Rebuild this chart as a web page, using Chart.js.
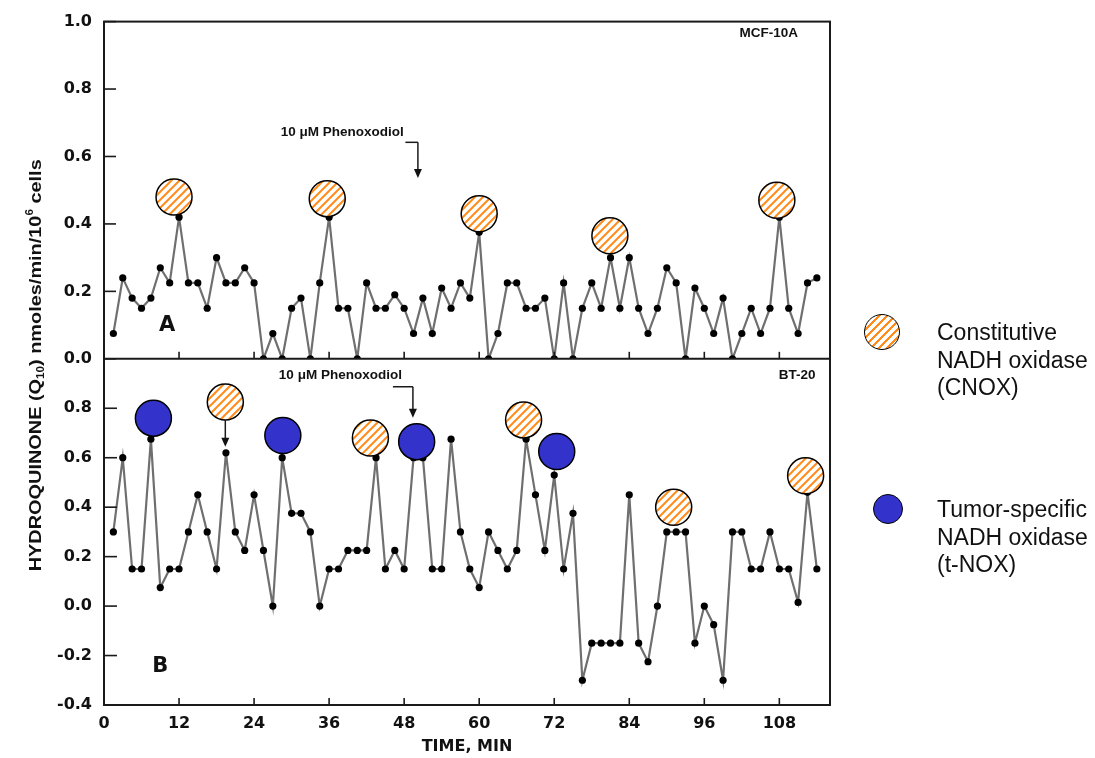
<!DOCTYPE html>
<html>
<head>
<meta charset="utf-8">
<script src="https://cdn.jsdelivr.net/npm/chart.js@4.4.1/dist/chart.umd.min.js"></script>
<style>
  body { margin: 0; background: #fff; }
  #wrap { position: relative; width: 1095px; height: 758px; }
  .swatch { position: absolute; border: 1.5px solid #000; border-radius: 50%; box-sizing: border-box; }
  .legend-text { position: absolute; left: 937px; font-family: "Liberation Sans", Arial, sans-serif;
    font-size: 23px; line-height: 27.5px; color: #111; white-space: nowrap; }
</style>
</head>
<body>
<div id="wrap">
  <canvas id="chart" width="1095" height="758"></canvas>
  <div class="swatch" style="left:864px;top:314px;width:36px;height:36px;background:repeating-linear-gradient(135deg,#fff 0 3.6px,#ff8c1a 3.6px 5.7px);"></div>
  <div class="legend-text" style="top:319px;">Constitutive<br>NADH oxidase<br>(CNOX)</div>
  <div class="swatch" style="left:873px;top:494px;width:30px;height:30px;background:#3333cc;"></div>
  <div class="legend-text" style="top:496px;">Tumor-specific<br>NADH oxidase<br>(t-NOX)</div>
</div>
<script>
// sampling times (min)
const minutes = [1.5, 3, 4.5, 6, 7.5, 9, 10.5, 12, 13.5, 15, 16.5, 18, 19.5, 21, 22.5, 24, 25.5, 27, 28.5, 30,
  31.5, 33, 34.5, 36, 37.5, 39, 40.5, 42, 43.5, 45, 46.5, 48, 49.5, 51, 52.5, 54, 55.5, 57, 58.5, 60,
  61.5, 63, 64.5, 66, 67.5, 69, 70.5, 72, 73.5, 75, 76.5, 78, 79.5, 81, 82.5, 84, 85.5, 87, 88.5, 90,
  91.5, 93, 94.5, 96, 97.5, 99, 100.5, 102, 103.5, 105, 106.5, 108, 109.5, 111, 112.5, 114];

// panel A, MCF-10A
const mcf10a = [0.075, 0.24, 0.18, 0.15, 0.18, 0.27, 0.225, 0.42, 0.225, 0.225,
  0.15, 0.30, 0.225, 0.225, 0.27, 0.225, 0.0, 0.075, 0.0, 0.15,
  0.18, 0.0, 0.225, 0.42, 0.15, 0.15, 0.0, 0.225, 0.15, 0.15,
  0.19, 0.15, 0.075, 0.18, 0.075, 0.21, 0.15, 0.225, 0.18, 0.375,
  0.0, 0.075, 0.225, 0.225, 0.15, 0.15, 0.18, 0.0, 0.225, 0.0,
  0.15, 0.225, 0.15, 0.30, 0.15, 0.30, 0.15, 0.075, 0.15, 0.27,
  0.225, 0.0, 0.21, 0.15, 0.075, 0.18, 0.0, 0.075, 0.15, 0.075,
  0.15, 0.42, 0.15, 0.075, 0.225, 0.24];

// panel B, BT-20
const bt20 = [0.30, 0.60, 0.15, 0.15, 0.675, 0.075, 0.15, 0.15, 0.30, 0.45,
  0.30, 0.15, 0.62, 0.30, 0.225, 0.45, 0.225, 0.0, 0.60, 0.375,
  0.375, 0.30, 0.0, 0.15, 0.15, 0.225, 0.225, 0.225, 0.60, 0.15,
  0.225, 0.15, 0.60, 0.60, 0.15, 0.15, 0.675, 0.30, 0.15, 0.075,
  0.30, 0.225, 0.15, 0.225, 0.675, 0.45, 0.225, 0.53, 0.15, 0.375,
  -0.30, -0.15, -0.15, -0.15, -0.15, 0.45, -0.15, -0.225, 0.0, 0.30,
  0.30, 0.30, -0.15, 0.0, -0.075, -0.30, 0.30, 0.30, 0.15, 0.15,
  0.30, 0.15, 0.15, 0.015, 0.46, 0.15];

// CNOX / tNOX peak markers
const cnoxTopMin = [11.2, 35.7, 60, 80.9, 107.6];
const cnoxTopVal = [0.48, 0.475, 0.43, 0.365, 0.47];
const cnoxBotMin = [19.4, 42.6, 67.1, 91.1, 112.2];
const cnoxBotVal = [0.825, 0.68, 0.753, 0.40, 0.527];
const tnoxBotMin = [7.9, 28.6, 50.0, 72.4];
const tnoxBotVal = [0.76, 0.69, 0.665, 0.625];

const xTickVals = [0, 12, 24, 36, 48, 60, 72, 84, 96, 108];
const topTickVals = [0, 0.2, 0.4, 0.6, 0.8, 1.0];
const botTickVals = [-0.4, -0.2, 0, 0.2, 0.4, 0.6, 0.8];

const pts = (xs, ys) => xs.map((x, i) => ({ x, y: ys[i] }));

function hatch() {
  const c = document.createElement('canvas');
  c.width = 8; c.height = 8;
  const g = c.getContext('2d');
  g.fillStyle = '#fff';
  g.fillRect(0, 0, 8, 8);
  g.strokeStyle = '#ff8c1a';
  g.lineWidth = 2;
  g.beginPath();
  g.moveTo(-1, 9); g.lineTo(9, -1);
  g.moveTo(-1, 1); g.lineTo(1, -1);
  g.moveTo(7, 9); g.lineTo(9, 7);
  g.stroke();
  return g.createPattern(c, 'repeat');
}
const stripes = hatch();

const tickFont = { family: '"DejaVu Sans", sans-serif', size: 16, weight: 'bold' };

function line(ctx, x1, y1, x2, y2) {
  ctx.beginPath(); ctx.moveTo(x1, y1); ctx.lineTo(x2, y2); ctx.stroke();
}
function head(ctx, x, y) {
  ctx.beginPath(); ctx.moveTo(x, y); ctx.lineTo(x - 4, y - 9); ctx.lineTo(x + 4, y - 9); ctx.closePath(); ctx.fill();
}

const decor = {
  id: 'decor',
  afterDraw(chart) {
    const { ctx, chartArea: a, scales } = chart;
    const x = scales.x, yT = scales.yTop, yB = scales.yBot;
    const split = yT.getPixelForValue(0);
    ctx.save();
    ctx.strokeStyle = '#1a1a1a';
    ctx.fillStyle = '#111';
    ctx.lineWidth = 2;
    ctx.strokeRect(a.left, a.top, a.right - a.left, a.bottom - a.top);
    line(ctx, a.left, split, a.right, split);

    ctx.lineWidth = 1.6;
    topTickVals.forEach(v => { const p = yT.getPixelForValue(v); line(ctx, a.left, p, a.left + 12, p); });
    botTickVals.forEach(v => { const p = yB.getPixelForValue(v); line(ctx, a.left, p, a.left + 13, p); });
    xTickVals.forEach(v => {
      const p = x.getPixelForValue(v);
      line(ctx, p, a.bottom, p, a.bottom - 7);
      line(ctx, p, split, p, split - 7);
    });

    // annotations
    ctx.font = 'bold 13.5px "Liberation Sans", Arial, sans-serif';
    ctx.textBaseline = 'middle';
    ctx.textAlign = 'center';
    ctx.fillText('10 \u03BCM Phenoxodiol', x.getPixelForValue(38.1), yT.getPixelForValue(0.672));
    ctx.fillText('10 \u03BCM Phenoxodiol', x.getPixelForValue(37.8), yB.getPixelForValue(0.935));
    ctx.textAlign = 'right';
    ctx.fillText('MCF-10A', x.getPixelForValue(111.0), yT.getPixelForValue(0.964));
    ctx.fillText('BT-20', x.getPixelForValue(113.8), yB.getPixelForValue(0.935));
    ctx.textAlign = 'center';
    ctx.font = 'bold 21px "DejaVu Sans", sans-serif';
    ctx.fillText('A', x.getPixelForValue(10.1), yT.getPixelForValue(0.098));
    ctx.fillText('B', x.getPixelForValue(9.0), yB.getPixelForValue(-0.246));

    ctx.lineWidth = 1.5;
    // elbow arrows for the phenoxodiol addition
    let ax0 = x.getPixelForValue(48.2), ax1 = x.getPixelForValue(50.2);
    let ay0 = yT.getPixelForValue(0.642), ay1 = yT.getPixelForValue(0.536);
    line(ctx, ax0, ay0, ax1, ay0); line(ctx, ax1, ay0, ax1, ay1 - 6); head(ctx, ax1, ay1);
    ax0 = x.getPixelForValue(46.2); ax1 = x.getPixelForValue(49.4);
    ay0 = yB.getPixelForValue(0.887); ay1 = yB.getPixelForValue(0.762);
    line(ctx, ax0, ay0, ax1, ay0); line(ctx, ax1, ay0, ax1, ay1 - 6); head(ctx, ax1, ay1);
    // arrow from the CNOX circle down to its peak
    const cx = x.getPixelForValue(cnoxBotMin[0]);
    const cyTop = yB.getPixelForValue(cnoxBotVal[0]) + 18;
    const peakY = yB.getPixelForValue(bt20[12]) - 6;
    line(ctx, cx, cyTop, cx, peakY - 6); head(ctx, cx, peakY);

    // y axis title with sub/superscript
    const parts = [
      { t: 'HYDROQUINONE (Q', s: 17, dy: 0 },
      { t: '10', s: 10, dy: 5 },
      { t: ') nmoles/min/10', s: 17, dy: 0 },
      { t: '6', s: 10, dy: -6 },
      { t: ' cells', s: 17, dy: 0 }
    ];
    let total = 0;
    parts.forEach(p => { ctx.font = 'bold ' + p.s + 'px "Liberation Sans", Arial, sans-serif'; p.w = ctx.measureText(p.t).width; total += p.w; });
    const target = 412;
    ctx.translate(36, (a.top + a.bottom) / 2 + 2);
    ctx.rotate(-Math.PI / 2);
    ctx.scale(target / total, 1);
    ctx.textAlign = 'left';
    ctx.textBaseline = 'middle';
    let cur = -total / 2;
    parts.forEach(p => {
      ctx.font = 'bold ' + p.s + 'px "Liberation Sans", Arial, sans-serif';
      ctx.fillText(p.t, cur, p.dy);
      cur += p.w;
    });
    ctx.restore();
  }
};

const lineStyle = {
  showLine: true, borderColor: '#6f6f6f', borderWidth: 2.2,
  pointRadius: 3.6, pointBackgroundColor: '#000', pointBorderWidth: 0, order: 2
};
const markerStyle = { showLine: false, borderColor: '#000', pointBorderWidth: 1.5, pointRadius: 18, order: 0 };

new Chart(document.getElementById('chart'), {
  type: 'scatter',
  data: {
    datasets: [
      { label: 'MCF-10A', data: pts(minutes, mcf10a), yAxisID: 'yTop', ...lineStyle },
      { label: 'BT-20', data: pts(minutes, bt20), yAxisID: 'yBot', ...lineStyle },
      { label: 'CNOX A', data: pts(cnoxTopMin, cnoxTopVal), yAxisID: 'yTop', ...markerStyle, pointBackgroundColor: stripes },
      { label: 'CNOX B', data: pts(cnoxBotMin, cnoxBotVal), yAxisID: 'yBot', ...markerStyle, pointBackgroundColor: stripes },
      { label: 't-NOX B', data: pts(tnoxBotMin, tnoxBotVal), yAxisID: 'yBot', ...markerStyle, pointBackgroundColor: '#3333cc' }
    ]
  },
  options: {
    responsive: false,
    animation: false,
    devicePixelRatio: 1,
    layout: { padding: { left: 0, right: 265, top: 20, bottom: 0 } },
    plugins: { legend: { display: false }, tooltip: { enabled: false } },
    scales: {
      x: {
        type: 'linear', min: 0, max: 116.1,
        grid: { display: false, drawTicks: false }, border: { display: false },
        afterBuildTicks: s => { s.ticks = xTickVals.map(v => ({ value: v })); },
        afterFit: s => { s.height = 53; },
        ticks: { font: tickFont, color: '#111', padding: 9, maxRotation: 0, autoSkip: false },
        title: { display: true, text: 'TIME, MIN', color: '#111', font: tickFont, padding: { top: 0, bottom: 2 } }
      },
      yTop: {
        type: 'linear', position: 'left', stack: 'panels', stackWeight: 338, weight: 2,
        min: 0, max: 1.0,
        grid: { display: false, drawTicks: false }, border: { display: false },
        afterBuildTicks: s => { s.ticks = topTickVals.map(v => ({ value: v })); },
        afterFit: s => { s.width = 104; },
        ticks: { font: tickFont, color: '#111', padding: 12, callback: v => v.toFixed(1) }
      },
      yBot: {
        type: 'linear', position: 'left', stack: 'panels', stackWeight: 347, weight: 1,
        min: -0.4, max: 1.0,
        grid: { display: false, drawTicks: false }, border: { display: false },
        afterBuildTicks: s => { s.ticks = botTickVals.map(v => ({ value: v })); },
        afterFit: s => { s.width = 104; },
        ticks: { font: tickFont, color: '#111', padding: 12, callback: v => v.toFixed(1) }
      }
    }
  },
  plugins: [decor]
});
</script>
</body>
</html>
